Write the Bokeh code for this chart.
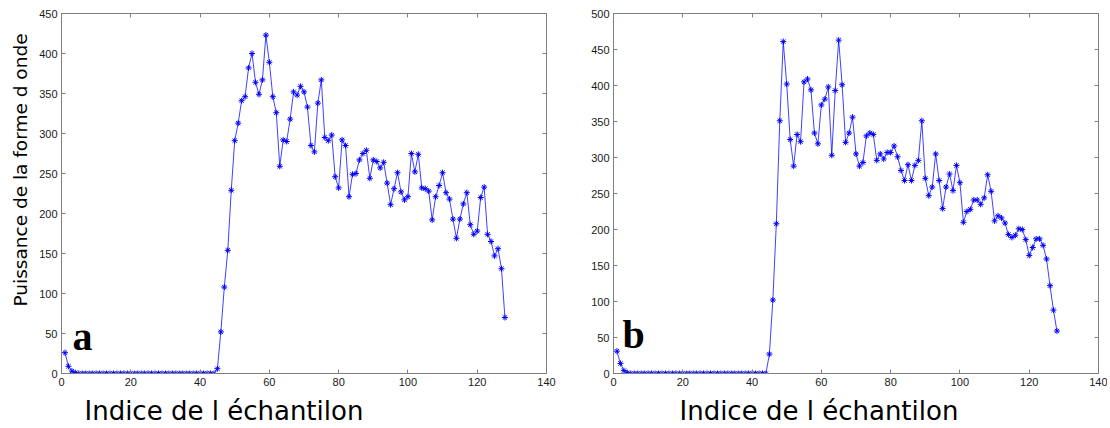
import math
from bokeh.plotting import figure
from bokeh.models import Range1d, LinearAxis, FixedTicker, Label, Title
from bokeh.layouts import row
from bokeh.embed import file_html
from bokeh.resources import INLINE

# ---------------- data ----------------
sample_index = list(range(1, 129))

power_a = ([26, 9, 3, 1] + [0] * 40 +
           [6, 52, 108, 154, 229, 291, 313, 341, 346, 382,
            400, 364, 349, 367, 423, 389, 346, 326, 259, 292,
            290, 318, 352, 348, 359, 352, 333, 285, 277, 338,
            367, 295, 291, 298, 246, 232, 292, 285, 221, 249,
            250, 267, 275, 279, 244, 267, 265, 257, 264, 238,
            211, 231, 251, 227, 217, 221, 275, 252, 274, 232,
            231, 228, 192, 221, 235, 251, 226, 218, 193, 169,
            193, 212, 226, 186, 174, 178, 220, 233, 174, 165,
            147, 156, 131, 70])

power_b = ([31, 14, 4, 1] + [0] * 40 +
           [27, 102, 208, 351, 461, 402, 325, 288, 332, 322,
            405, 409, 394, 334, 319, 373, 381, 398, 303, 393,
            463, 401, 321, 334, 356, 305, 288, 293, 330, 334,
            332, 296, 305, 298, 307, 307, 316, 301, 282, 268,
            290, 268, 289, 296, 351, 271, 247, 259, 305, 268,
            229, 259, 277, 254, 289, 265, 210, 225, 228, 241,
            241, 235, 244, 276, 253, 212, 219, 216, 209, 193,
            189, 192, 201, 200, 186, 164, 175, 187, 187, 178,
            159, 122, 88, 59])

x_ticks = [0, 20, 40, 60, 80, 100, 120, 140]
y_ticks_a = [0, 50, 100, 150, 200, 250, 300, 350, 400, 450]
y_ticks_b = [0, 50, 100, 150, 200, 250, 300, 350, 400, 450, 500]

x_label = "Indice de l échantilon"
y_label = "Puissance de la forme d onde"
panel_letters = ["a", "b"]

AXIS_GRAY = "#808080"
BLUE = "#0000ff"


def style_axis(ax, labels=True):
    ax.axis_line_color = AXIS_GRAY
    ax.major_tick_line_color = AXIS_GRAY
    ax.major_tick_in = 4
    ax.major_tick_out = 0
    ax.minor_tick_line_color = None
    if labels:
        ax.major_label_text_font = "Liberation Sans"
        ax.major_label_text_font_size = "11px"
        ax.major_label_text_color = "#1a1a1a"
        ax.major_label_standoff = 4
    else:
        ax.major_label_text_color = None
        ax.major_label_standoff = 0


def make_panel(values, y_ticks, ymax, letter, border_left, border_right,
               letter_pos, xlabel_offset, show_ylabel):
    p = figure(frame_width=485, frame_height=360,
               x_range=Range1d(0, 140), y_range=Range1d(0, ymax),
               output_backend="svg", toolbar_location=None,
               min_border_left=border_left, min_border_right=border_right,
               min_border_top=13, min_border_bottom=52,
               background_fill_color="white", border_fill_color="white",
               outline_line_color=AXIS_GRAY)
    p.xgrid.visible = False
    p.ygrid.visible = False
    p.xaxis.ticker = FixedTicker(ticks=x_ticks)
    p.yaxis.ticker = FixedTicker(ticks=y_ticks)
    style_axis(p.xaxis[0])
    style_axis(p.yaxis[0])

    top = LinearAxis(ticker=FixedTicker(ticks=x_ticks))
    style_axis(top, labels=False)
    p.add_layout(top, "above")
    right = LinearAxis(ticker=FixedTicker(ticks=y_ticks))
    style_axis(right, labels=False)
    p.add_layout(right, "right")

    p.line(sample_index, values, line_color=BLUE, line_width=1, line_alpha=0.75)
    p.scatter(sample_index, values, marker="asterisk", size=6,
              line_color=BLUE, line_width=1)

    p.add_layout(Label(x=letter_pos[0], y=letter_pos[1], text=letter,
                       text_font="Liberation Serif", text_font_style="bold",
                       text_font_size="40px", text_color="black",
                       text_baseline="alphabetic", text_align="left"))

    p.add_layout(Title(text=x_label, align="left", offset=xlabel_offset,
                       standoff=11, text_font="DejaVu Sans",
                       text_font_style="normal", text_font_size="26px",
                       text_color="black"), "below")
    if show_ylabel:
        p.add_layout(Title(text=y_label, align="left", offset=67,
                           standoff=11, text_font="DejaVu Sans",
                           text_font_style="normal", text_font_size="18.5px",
                           text_color="black"), "left")
    return p


p1 = make_panel(power_a, y_ticks_a, 450, panel_letters[0], 61, 10,
                (3.2, 46), 23, True)
p2 = make_panel(power_b, y_ticks_b, 500, panel_letters[1], 57, 9,
                (2.6, 54), 66, False)

layout = row(p1, p2)
open("out.html", "w").write(file_html(layout, INLINE))
